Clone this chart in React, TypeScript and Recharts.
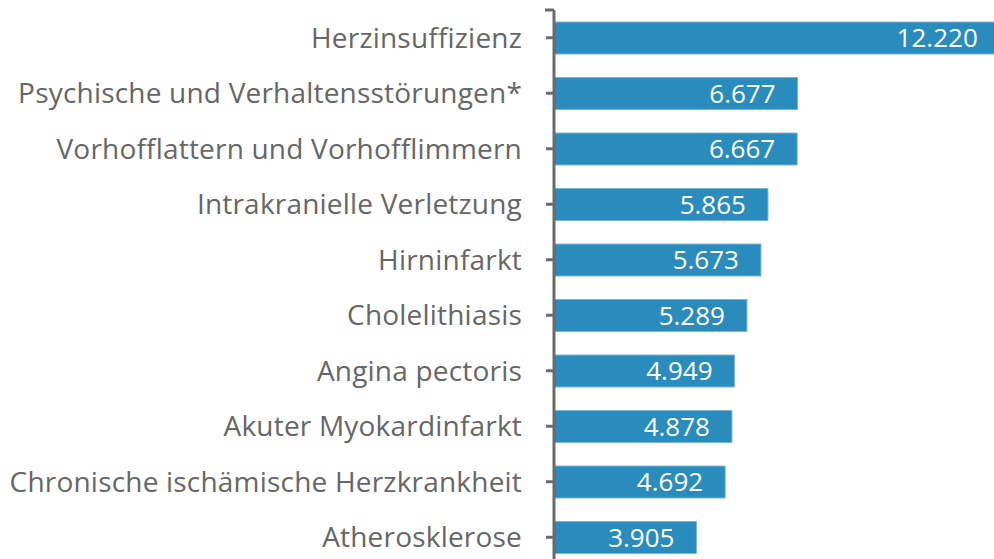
import React from 'react';
import * as Recharts from 'recharts';
import { BarChart, Bar, XAxis, YAxis, LabelList } from 'recharts';

// Top 10 Diagnosen (Fälle)
const diagnosen = [
  'Herzinsuffizienz',
  'Psychische und Verhaltensstörungen*',
  'Vorhofflattern und Vorhofflimmern',
  'Intrakranielle Verletzung',
  'Hirninfarkt',
  'Cholelithiasis',
  'Angina pectoris',
  'Akuter Myokardinfarkt',
  'Chronische ischämische Herzkrankheit',
  'Atherosklerose',
];
const faelle = [12220, 6677, 6667, 5865, 5673, 5289, 4949, 4878, 4692, 3905];

const data = diagnosen.map((name, i) => ({ name, value: faelle[i] }));

const BAR_COLOR = '#2a8bbd';
const AXIS_COLOR = '#6b6b6b';
const TEXT_COLOR = '#666666';
const FONT = '"Open Sans", sans-serif';

// "12220" -> "12.220"
const fmt = (v: number) => String(v).replace(/\B(?=(\d{3})+(?!\d))/g, '.');

// small cap at the top end of the category axis
function AxisCap() {
  const usePlotArea = (Recharts as any).usePlotArea;
  const area = usePlotArea ? usePlotArea() : null;
  const x = area ? area.x : 554;
  const y = area ? area.y : 10;
  return <line x1={x - 9} x2={x} y1={y} y2={y} stroke={AXIS_COLOR} strokeWidth={3} />;
}

export default function App() {
  return (
    <div style={{ position: 'absolute', left: 0, top: 0, width: 994, height: 559, overflow: 'hidden', background: '#fff' }}>
      <BarChart
        width={1010}
        height={565}
        data={data}
        layout="vertical"
        margin={{ top: 10, right: 0, left: 0, bottom: 0 }}
      >
        <XAxis type="number" hide domain={[0, 12500]} />
        <YAxis
          type="category"
          dataKey="name"
          width={554}
          tickSize={8}
          tickMargin={24}
          interval={0}
          axisLine={{ stroke: AXIS_COLOR, strokeWidth: 3 }}
          tickLine={{ stroke: AXIS_COLOR, strokeWidth: 3 }}
          tick={{ fill: TEXT_COLOR, fontSize: 28, fontFamily: FONT, letterSpacing: 0.2 }}
        />
        <Bar dataKey="value" fill={BAR_COLOR} stroke="#78b6d9" strokeWidth={1} barSize={32} isAnimationActive={false}>
          <LabelList
            dataKey="value"
            position="insideRight"
            offset={22}
            formatter={(v: any) => fmt(Number(v))}
            style={{ fill: '#ffffff', fontSize: 26, fontFamily: FONT }}
          />
        </Bar>
        <AxisCap />
      </BarChart>
    </div>
  );
}
